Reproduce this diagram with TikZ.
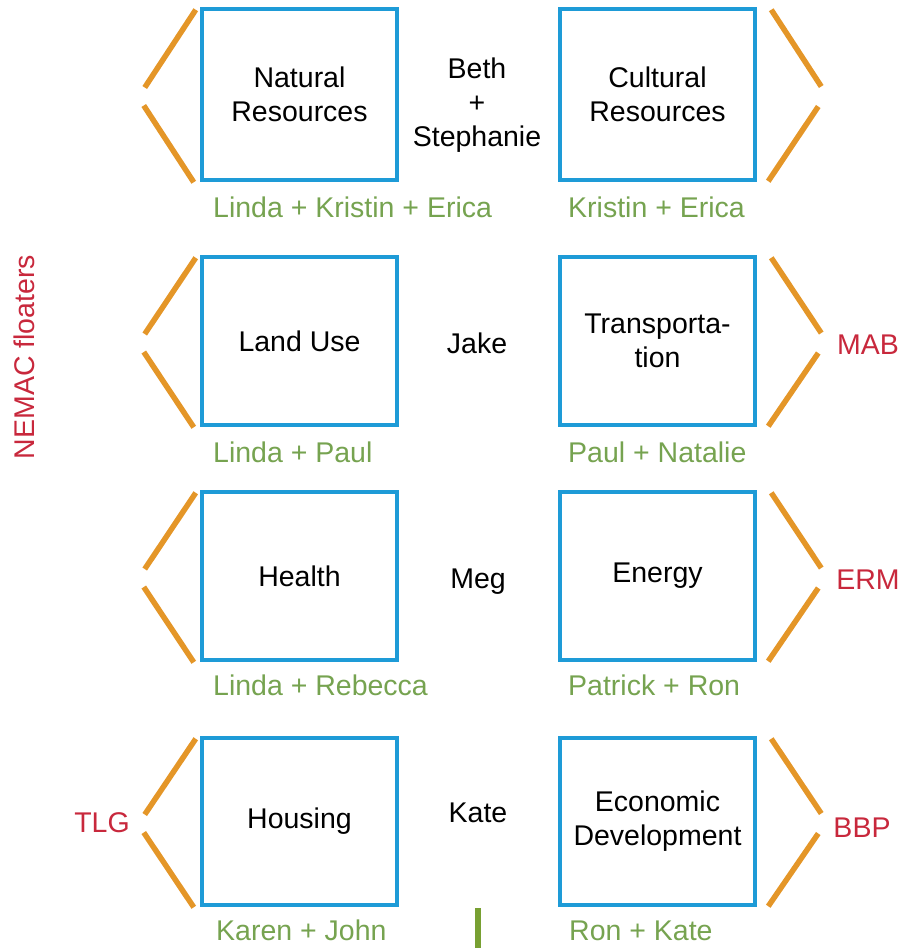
\documentclass[tikz,border=0pt]{standalone}
\usepackage{fontspec}
\setmainfont{Liberation Sans}
\usetikzlibrary{calc}
\definecolor{boxblue}{RGB}{30,155,215}
\definecolor{brorange}{RGB}{228,150,40}
\definecolor{namegreen}{RGB}{118,163,80}
\definecolor{labred}{RGB}{200,40,60}
\definecolor{bargreen}{RGB}{120,160,50}
\newcommand\drawLeftBr[1]{%
  \draw[bracket] ($(#1.north west)+(-4,3)$) -- ($(#1.west)+(-55,-7)$);
  \draw[bracket] ($(#1.west)+(-56,11)$) -- ($(#1.south west)+(-6,0)$);}
\newcommand\drawRightBr[1]{%
  \draw[bracket] ($(#1.north east)+(14,3)$) -- ($(#1.east)+(64,-8)$);
  \draw[bracket] ($(#1.east)+(61,12)$) -- ($(#1.south east)+(11,-1)$);}
\begin{document}
\begin{tikzpicture}[x=1pt,y=-1pt,
  font=\fontsize{28.5}{34}\selectfont,
  topic/.style={draw=boxblue, line width=4.5pt, minimum width=195pt, align=center, inner sep=0pt},
  bracket/.style={draw=brorange, line width=5.5pt},
  team/.style={text=namegreen, anchor=base west, inner sep=0pt},
  lead/.style={align=center, inner sep=0pt},
  floater/.style={text=labred, inner sep=0pt}]
\useasboundingbox (0,0) rectangle (903,948);
% topic boxes
\node[topic, minimum height=171pt] (nat) at (299.5,94.5) {Natural\\Resources};
\node[topic, minimum height=171pt] (cul) at (657.5,94.5) {Cultural\\Resources};
\node[topic, minimum height=168pt] (land) at (299.5,341) {Land Use};
\node[topic, minimum height=168pt] (trans) at (657.5,341) {Transporta-\\tion};
\node[topic, minimum height=168pt] (health) at (299.5,576) {Health};
\node[topic, minimum height=168pt] (energy) at (657.5,576) {Energy};
\node[topic, minimum height=167pt] (housing) at (299.5,821.5) {Housing};
\node[topic, minimum height=167pt] (econ) at (657.5,821.5) {Economic\\Development};
% leads
\node[lead] (beth) at (477,105) {Beth\\+\\Stephanie};
\node[lead, anchor=base] (jake) at (477,353) {Jake};
\node[lead, anchor=base] (meg) at (478,588) {Meg};
\node[lead, anchor=base] (kate) at (478,822) {Kate};
% teams
\node[team] (t1l) at (213,217) {Linda + Kristin + Erica};
\node[team] (t1r) at (568,217) {Kristin + Erica};
\node[team] (t2l) at (213,462) {Linda + Paul};
\node[team] (t2r) at (568,462) {Paul + Natalie};
\node[team] (t3l) at (213,695) {Linda + Rebecca};
\node[team] (t3r) at (568,695) {Patrick + Ron};
\node[team] (t4l) at (216,940) {Karen + John};
\node[team] (t4r) at (569,940) {Ron + Kate};
% floaters
\node[floater, rotate=90] (nemac) at (24,357) {NEMAC floaters};
\node[floater] (mab) at (868,345) {MAB};
\node[floater] (erm) at (868,580) {ERM};
\node[floater] (bbp) at (862,828) {BBP};
\node[floater] (tlg) at (102,823) {TLG};
% brackets
\drawLeftBr{nat}
\drawRightBr{cul}
\drawLeftBr{land}
\drawRightBr{trans}
\drawLeftBr{health}
\drawRightBr{energy}
\drawLeftBr{housing}
\drawRightBr{econ}
% green bar
\coordinate (barT) at (478,908);
\coordinate (barB) at (478,948);
\draw[bargreen, line width=6pt] (barT) -- (barB);
\end{tikzpicture}
\end{document}
